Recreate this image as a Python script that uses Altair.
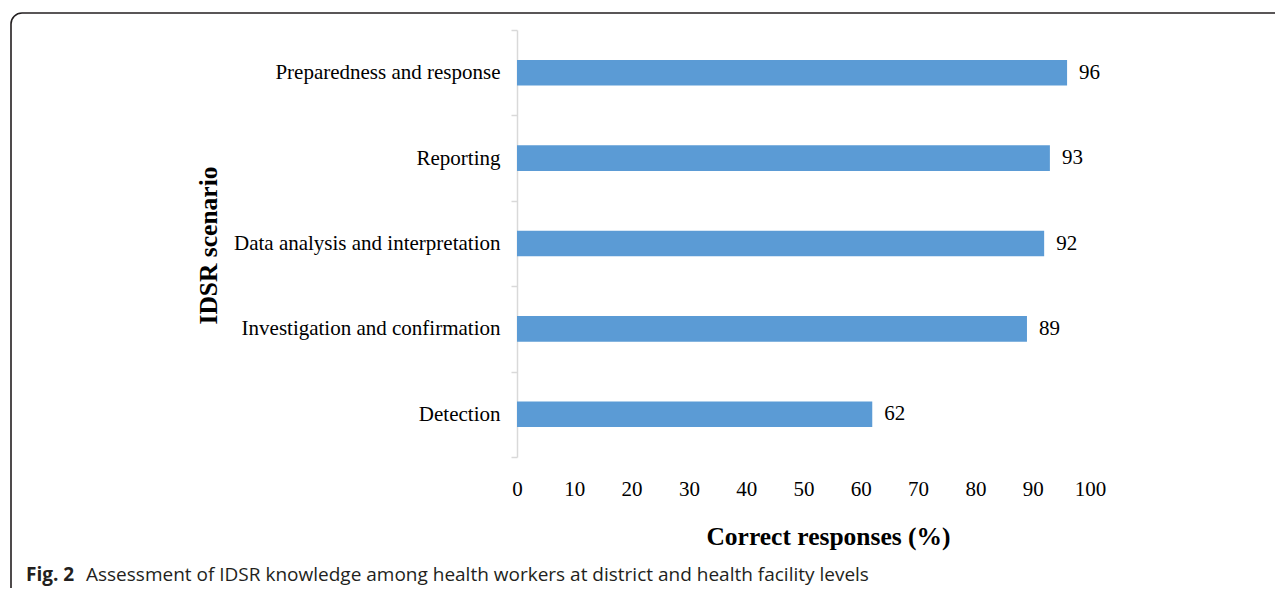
import altair as alt
import pandas as pd

categories = [
    "Preparedness and response",
    "Reporting",
    "Data analysis and interpretation",
    "Investigation and confirmation",
    "Detection",
]
values = [96, 93, 92, 89, 62]
x_ticks = [0, 10, 20, 30, 40, 50, 60, 70, 80, 90, 100]

df = pd.DataFrame({"scenario": categories, "pct": values})

SERIF = "Liberation Serif"
BLUE = "#5B9BD5"

y_enc = alt.Y(
    "scenario:N",
    sort=categories,
    scale=alt.Scale(paddingInner=0, paddingOuter=0),
    axis=alt.Axis(
        title="IDSR scenario",
        titleFont=SERIF,
        titleFontSize=25.5,
        titleFontWeight="bold",
        titleColor="#000000",
        titleAngle=-90,
        titleX=-309,
        titleY=215,
        titleAlign="center",
        titleBaseline="middle",
        labelFont=SERIF,
        labelFontSize=21,
        labelColor="#000000",
        labelPadding=11,
        labelLimit=400,
        tickBand="extent",
        tickSize=6,
        tickColor="#d9d9d9",
        tickWidth=1.5,
        domainColor="#d9d9d9",
        domainWidth=1.5,
        grid=False,
    ),
)

x_enc = alt.X(
    "pct:Q",
    scale=alt.Scale(domain=[0, 100], nice=False),
    axis=alt.Axis(
        title="Correct responses (%)",
        titleFont=SERIF,
        titleFontSize=25.5,
        titleFontWeight="bold",
        titleColor="#000000",
        titleX=311,
        titleY=87,
        titleAlign="center",
        titleBaseline="alphabetic",
        values=x_ticks,
        labelFont=SERIF,
        labelFontSize=21,
        labelColor="#000000",
        labelBaseline="alphabetic",
        labelPadding=38,
        labelFlush=False,
        ticks=False,
        tickSize=0,
        domain=False,
        grid=False,
    ),
)

bars = alt.Chart(df).mark_bar(color=BLUE, height=alt.RelativeBandSize(band=0.3)).encode(
    x=x_enc, y=y_enc
)

labels = alt.Chart(df).mark_text(
    align="left", baseline="middle", dx=12, font=SERIF, fontSize=21, color="#000000"
).encode(
    x="pct:Q",
    y=alt.Y("scenario:N", sort=categories),
    text="pct:Q",
)

frame_df = pd.DataFrame({"k": [0]})
frame = alt.Chart(frame_df).mark_rect(
    fill=None, stroke="#231f20", strokeWidth=1.6, cornerRadius=11
).encode(
    x=alt.value(-506), x2=alt.value(820), y=alt.value(-17), y2=alt.value(640)
)

cap_bold = alt.Chart(frame_df).mark_text(
    align="left", baseline="alphabetic", font="Open Sans", fontSize=19,
    fontWeight="bold", color="#231f20", text="Fig. 2"
).encode(x=alt.value(-491), y=alt.value(551))

cap_text = alt.Chart(frame_df).mark_text(
    align="left", baseline="alphabetic", font="Open Sans", fontSize=19,
    color="#231f20",
    text="Assessment of IDSR knowledge among health workers at district and health facility levels",
).encode(x=alt.value(-431), y=alt.value(551))

chart = (
    alt.layer(frame, bars, labels, cap_bold, cap_text)
    .properties(
        width=573,
        height=427,
        background="#ffffff",
        autosize=alt.AutoSizeParams(type="none"),
        padding={"left": 509, "top": 22, "right": 185, "bottom": 131},
    )
    .configure_view(stroke="transparent", strokeWidth=0)
    .configure_axis(grid=False)
)

chart.save("out.html", embed_options={"renderer": "svg", "actions": False})
